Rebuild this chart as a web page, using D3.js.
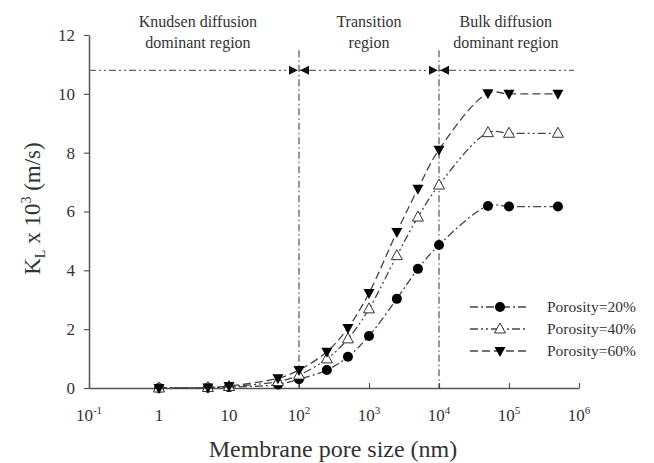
<!DOCTYPE html>
<html>
<head>
<meta charset="utf-8">
<script src="https://cdnjs.cloudflare.com/ajax/libs/d3/7.8.5/d3.min.js"></script>
<style>
  body { margin: 0; background: #fff; }
</style>
</head>
<body>
<div id="chart"></div>
<script>

//Data
var poreSize = [1, 5, 10, 50, 100, 250, 500, 1000, 2500, 5000, 10000, 50000, 100000, 500000];
var porosity20 = [0, 0.01, 0.03, 0.12, 0.3, 0.61, 1.06, 1.77, 3.03, 4.05, 4.86, 6.19, 6.17, 6.17];
var porosity40 = [0, 0.015, 0.05, 0.22, 0.44, 0.99, 1.67, 2.69, 4.5, 5.81, 6.9, 8.68, 8.66, 8.66];
var porosity60 = [0, 0.02, 0.07, 0.33, 0.61, 1.23, 2.04, 3.23, 5.3, 6.77, 8.1, 10.02, 10.0, 10.0];
var seriesNames = ["Porosity=20%", "Porosity=40%", "Porosity=60%"];
var xTickExp = [-1, 0, 1, 2, 3, 4, 5, 6];
var yTicks = [0, 2, 4, 6, 8, 10, 12];
var regionBounds = [100, 10000];
var regionLevel = 10.8;
var regionLabels = [
  {lines: ["Knudsen diffusion", "dominant region"], at: 3.6},
  {lines: ["Transition", "region"], at: 1000},
  {lines: ["Bulk diffusion", "dominant region"], at: 9e4}
];

var W = 654, H = 463;
var margin = {top: 35, right: 75, bottom: 75, left: 89};
var serif = "'Liberation Serif', 'Times New Roman', Times, 'DejaVu Serif', serif";
var textColor = "#333";

var svg = d3.select("#chart").append("svg")
  .attr("width", W).attr("height", H)
  .attr("font-family", serif);

var x = d3.scaleLog().domain([0.1, 1e6]).range([margin.left, W - margin.right]);
var y = d3.scaleLinear().domain([0, 12]).range([H - margin.bottom, margin.top]);

var axisColor = "#555";

//////////////// Axes ////////////////
var gx = svg.append("g")
  .attr("transform", "translate(0," + y(0) + ")")
  .call(d3.axisBottom(x).tickValues(xTickExp.map(function(e) { return Math.pow(10, e); }))
    .tickSizeInner(-5).tickSizeOuter(0).tickFormat(""));
gx.attr("font-family", null);
gx.select(".domain").attr("stroke", axisColor).attr("stroke-width", 1.5);
gx.selectAll(".tick line").attr("stroke", axisColor).attr("stroke-width", 1.2);

//x tick labels with superscripts
var xl = svg.append("g").selectAll("text")
  .data(xTickExp).enter().append("text")
  .attr("x", function(d) { return x(Math.pow(10, d)); })
  .attr("y", y(0) + 33)
  .attr("text-anchor", "middle")
  .attr("fill", textColor)
  .style("font-size", "17px");
xl.each(function(d) {
  var t = d3.select(this);
  if (d === 0) { t.text("1"); }
  else if (d === 1) { t.text("10"); }
  else {
    t.append("tspan").text("10");
    t.append("tspan").attr("dy", -7).style("font-size", "11px").text(d);
  }
});

var gy = svg.append("g")
  .attr("transform", "translate(" + margin.left + ",0)")
  .call(d3.axisLeft(y).tickValues(yTicks).tickSize(5).tickSizeOuter(0).tickPadding(9));
gy.attr("font-family", null);
gy.select(".domain").attr("stroke", axisColor).attr("stroke-width", 1.5);
gy.selectAll(".tick line").attr("stroke", axisColor).attr("stroke-width", 1.2);
gy.selectAll(".tick text").style("font-size", "17px").attr("fill", textColor);

//Axis titles
svg.append("text")
  .attr("x", 333)
  .attr("y", H - 6)
  .attr("text-anchor", "middle")
  .attr("fill", textColor)
  .style("font-size", "24px")
  .text("Membrane pore size (nm)");

var yt = svg.append("text")
  .attr("transform", "translate(40," + y(6.1) + ") rotate(-90)")
  .attr("text-anchor", "middle")
  .attr("fill", textColor)
  .style("font-size", "23px");
yt.append("tspan").text("K");
yt.append("tspan").attr("dy", 5).style("font-size", "14px").text("L");
yt.append("tspan").attr("dy", -5).text(" x 10");
yt.append("tspan").attr("dy", -9).style("font-size", "14px").text("3");
yt.append("tspan").attr("dy", 9).text(" (m/s)");

//////////////// Region markers ////////////////
var guideColor = "#444";
svg.append("line")
  .attr("x1", x(0.1)).attr("x2", x(1e6) - 5)
  .attr("y1", y(regionLevel)).attr("y2", y(regionLevel))
  .attr("stroke", "#666").attr("stroke-width", 1.3)
  .attr("stroke-dasharray", "7,3,2,3,2,3");

regionBounds.forEach(function(b) {
  var bx = x(b);
  svg.append("line")
    .attr("x1", bx).attr("x2", bx)
    .attr("y1", y(regionLevel) - 20).attr("y2", y(0))
    .attr("stroke", guideColor).attr("stroke-width", 1.1)
    .attr("stroke-dasharray", "7,3,1.5,3");
  var ay = y(regionLevel);
  //arrow pointing right, from the left
  svg.append("path")
    .attr("d", "M" + (bx - 1) + "," + ay + "L" + (bx - 10) + "," + (ay - 4.5) + "L" + (bx - 10) + "," + (ay + 4.5) + "Z")
    .attr("fill", "#111");
  //arrow pointing left, from the right
  svg.append("path")
    .attr("d", "M" + (bx + 1) + "," + ay + "L" + (bx + 10) + "," + (ay - 4.5) + "L" + (bx + 10) + "," + (ay + 4.5) + "Z")
    .attr("fill", "#111");
});

regionLabels.forEach(function(r) {
  var lx = x(r.at);
  var t = svg.append("text")
    .attr("y", 27)
    .attr("text-anchor", "middle")
    .attr("fill", textColor)
    .style("font-size", "16px");
  t.append("tspan").attr("x", lx).text(r.lines[0]);
  t.append("tspan").attr("x", lx).attr("dy", 21).text(r.lines[1]);
});

//////////////// Series ////////////////
var series = [
  {name: seriesNames[0], values: porosity20, dash: "8,3,2,3", marker: "circle"},
  {name: seriesNames[1], values: porosity40, dash: "8,3,2,3,2,3", marker: "tri-open"},
  {name: seriesNames[2], values: porosity60, dash: "8,4", marker: "tri-down"}
];

var line = d3.line()
  .x(function(d) { return x(d[0]); })
  .y(function(d) { return y(d[1]); })
  .curve(d3.curveCatmullRom.alpha(0.5));

function drawMarker(g, type, cx, cy) {
  if (type === "circle") {
    g.append("circle").attr("cx", cx).attr("cy", cy).attr("r", 5).attr("fill", "#000");
  } else if (type === "tri-open") {
    g.append("path")
      .attr("d", "M" + cx + "," + (cy - 6) + "L" + (cx + 5.5) + "," + (cy + 4) + "L" + (cx - 5.5) + "," + (cy + 4) + "Z")
      .attr("fill", "#fff").attr("stroke", "#333").attr("stroke-width", 1);
  } else {
    g.append("path")
      .attr("d", "M" + cx + "," + (cy + 6) + "L" + (cx + 5.5) + "," + (cy - 4) + "L" + (cx - 5.5) + "," + (cy - 4) + "Z")
      .attr("fill", "#000");
  }
}

series.forEach(function(s) {
  var pts = poreSize.map(function(p, i) { return [p, s.values[i]]; });
  svg.append("path")
    .datum(pts)
    .attr("d", line)
    .attr("fill", "none")
    .attr("stroke", "#444")
    .attr("stroke-width", 1.3)
    .attr("stroke-dasharray", s.dash);
  var g = svg.append("g");
  pts.forEach(function(d) { drawMarker(g, s.marker, x(d[0]), y(d[1])); });
});

//////////////// Legend ////////////////
var legend = svg.append("g");
series.forEach(function(s, i) {
  var ly = 307 + i * 22;
  legend.append("line")
    .attr("x1", 470).attr("x2", 528)
    .attr("y1", ly).attr("y2", ly)
    .attr("stroke", "#444").attr("stroke-width", 1.3)
    .attr("stroke-dasharray", s.dash);
  drawMarker(legend, s.marker, 500, ly);
  legend.append("text")
    .attr("x", 547).attr("y", ly + 5)
    .attr("fill", textColor)
    .style("font-size", "15.5px")
    .text(s.name);
});

</script>
</body>
</html>
